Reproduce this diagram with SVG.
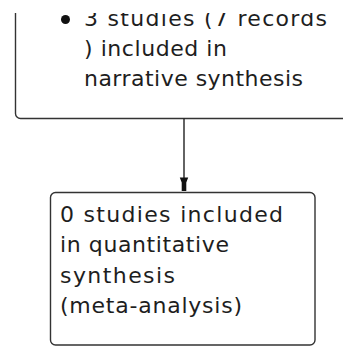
<svg xmlns="http://www.w3.org/2000/svg" width="343" height="347" viewBox="0 0 343 347">
<style>
.box{fill:#fff;stroke:#333;stroke-width:1.4}
.t{font-family:"DejaVu Sans",sans-serif;font-size:22px;fill:#1e1e1e}
.conn{stroke:#222;stroke-width:1.4;fill:none}
</style>
<defs>
<clipPath id="topclip"><rect x="0" y="13" width="343" height="334"/></clipPath>
</defs>
<rect width="343" height="347" fill="#fff"/>
<g id="node-narrative" clip-path="url(#topclip)">
<rect class="box" x="15.5" y="-60" width="400" height="178.5" rx="5"/>
<circle cx="65.5" cy="19.5" r="4.5" fill="#111"/>
<text class="t" x="84" y="26" textLength="243" lengthAdjust="spacing">3 studies (7 records</text>
<text class="t" x="84" y="55.5" textLength="143" lengthAdjust="spacing">) included in</text>
<text class="t" x="84" y="85.5" textLength="219" lengthAdjust="spacing">narrative synthesis</text>
</g>
<g id="connectors">
<line class="conn" x1="184" y1="118.5" x2="184" y2="182"/>
<polygon points="179.8,177.5 188.2,177.5 186.3,182.5 186.3,191 181.7,191 181.7,182.5" fill="#111"/>
</g>
<g id="node-quantitative">
<rect class="box" x="50.5" y="192.5" width="264.5" height="152.5" rx="5"/>
<text class="t" x="60" y="222" textLength="223" lengthAdjust="spacing">0 studies included</text>
<text class="t" x="60" y="251.5" textLength="169" lengthAdjust="spacing">in quantitative</text>
<text class="t" x="60" y="282.5" textLength="115" lengthAdjust="spacing">synthesis</text>
<text class="t" x="60" y="313" textLength="182" lengthAdjust="spacing">(meta-analysis)</text>
</g>
</svg>
